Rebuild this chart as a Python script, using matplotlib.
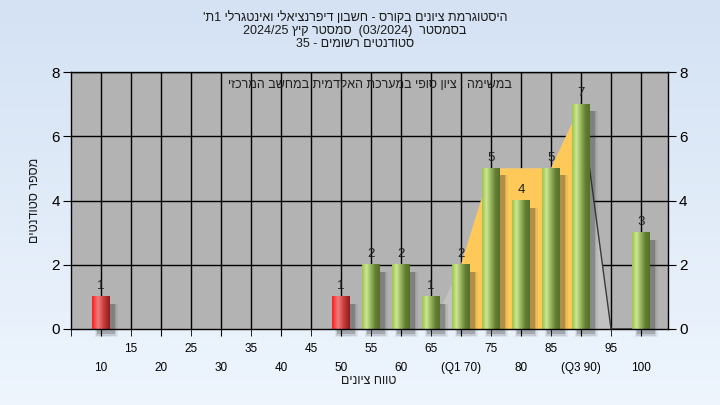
import re
import numpy as np
import matplotlib
matplotlib.use("Agg")
import matplotlib.pyplot as plt
from matplotlib.colors import LinearSegmentedColormap
from matplotlib.patches import Rectangle, Polygon

plt.rcParams['font.family'] = ['Liberation Sans', 'DejaVu Sans']


# matplotlib has no bidi, so flip hebrew strings for display
def rtl(s):
    r = s[::-1]
    r = re.sub(r'[0-9A-Za-z/.]+', lambda m: m.group(0)[::-1], r)
    return r.translate(str.maketrans('()', ')('))


# data
grades = [10, 15, 20, 25, 30, 35, 40, 45, 50, 55, 60, 65, 70, 75, 80, 85, 90, 95, 100]
tick_text = ["10", "15", "20", "25", "30", "35", "40", "45", "50", "55", "60", "65",
             "(Q1 70)", "75", "80", "85", "(Q3 90)", "95", "100"]
counts = [1, 0, 0, 0, 0, 0, 0, 0, 1, 2, 2, 1, 2, 5, 4, 5, 7, 0, 3]
failed = [10, 45, 50]

# frequency polygon (light) and quartile band (yellow)
poly_grades = [65, 70, 75, 80, 85, 90, 95, 100]
poly_vals = [0, 2, 5, 5, 5, 7, 0, 0]
q1, q3 = 70, 90

title_lines = ["היסטוגרמת ציונים בקורס - חשבון דיפרנציאלי ואינטגרלי 1ת'",
               "בסמסטר  (03/2024)  סמסטר קיץ 2024/25",
               "סטודנטים רשומים - 35"]
note = "במשימה : ציון סופי במערכת האקדמית במחשב המרכזי"
xlab = "טווח ציונים"
ylab = "מספר סטודנטים"


fig = plt.figure(figsize=(7.2, 4.05), dpi=100)

# light blue gradient background
bg = fig.add_axes([0, 0, 1, 1], zorder=-10)
bg_cmap = LinearSegmentedColormap.from_list("bg", ["#d4e2f4", "#eef5fd"])
bg.imshow(np.linspace(0, 1, 100).reshape(-1, 1), aspect='auto', cmap=bg_cmap,
          extent=(0, 1, 0, 1))
bg.axis('off')

ax = fig.add_axes([71/720, 1-329/405, 597/720, 257/405])
ax.set_facecolor("#b3b3b3")

idx = {g: i for i, g in enumerate(grades)}
px = [idx[g] for g in poly_grades]

# grid
for i in range(len(grades)):
    ax.axvline(i, color='black', lw=1, zorder=0.5)
for v in [2, 4, 6, 8]:
    ax.axhline(v, color='black', lw=1, zorder=0.5)

# frequency polygon
pts = list(zip(px, poly_vals)) + [(px[-1], 0), (px[0], 0)]
ax.add_patch(Polygon(pts, closed=True, facecolor="#c2c2c2", edgecolor='none', zorder=1))
band = [(x, y) for x, y in zip(px, poly_vals) if idx[q1] <= x <= idx[q3]]
band = [(idx[q1], 0)] + band + [(idx[q3], 0)]
ax.add_patch(Polygon(band, closed=True, facecolor="#ffc95a", edgecolor='none', zorder=1.1))
k = poly_grades.index(q3)
ax.plot(px[k:], poly_vals[k:], color="#3a3a3a", lw=1, zorder=1.2, clip_on=False)

green = LinearSegmentedColormap.from_list("g", ["#9cc646", "#cde698", "#94b45a", "#647f34", "#566f2a"])
red = LinearSegmentedColormap.from_list("r", ["#ff1c1c", "#f07c7c", "#c83c3c", "#8e1c1c"])

w = 0.6
grad = np.linspace(0, 1, 64).reshape(1, -1)
for g, c in zip(grades, counts):
    if c == 0:
        continue
    i = idx[g]
    # soft shadow
    for s, a in [(0.0, 0.22), (0.08, 0.12), (0.16, 0.07)]:
        ax.add_patch(Rectangle((i - w/2 + 0.17 - s/2, -0.17 - s/2), w + s, c + s/2 - 0.05,
                               facecolor="#2a2a2a", edgecolor='none', alpha=a,
                               zorder=1.5, clip_on=False))
    cm = red if g in failed else green
    ax.imshow(grad, extent=(i - w/2, i + w/2, 0, c), aspect='auto', cmap=cm, zorder=2)
    ax.text(i, c + 0.15, str(c), ha='center', va='bottom', fontsize=9.5, color="#202020", zorder=3)

ax.set_xlim(-1, 18.9)
ax.set_ylim(0, 8)

# x ticks: two rows
ax.set_xticks(list(range(0, 19, 2)))
ax.set_xticklabels(tick_text[0::2], fontsize=8.5)
ax.set_xticks([-1] + list(range(1, 19, 2)), minor=True)
ax.set_xticklabels([""] + tick_text[1::2], minor=True, fontsize=8.5)
ax.tick_params(axis='x', which='major', length=5, pad=19, color='black')
ax.tick_params(axis='x', which='minor', length=5, pad=5, color='black')

ax.set_yticks([0, 2, 4, 6, 8])
ax.tick_params(axis='y', which='major', length=6, labelsize=11, pad=2,
               left=True, right=True, labelleft=True, labelright=True)

for sp in ax.spines.values():
    sp.set_color('black')
    sp.set_linewidth(1)

ax.text(0.5, 0.95, rtl(note), transform=ax.transAxes, ha='center', va='center',
        fontsize=9, color="#202020", zorder=4)

for j, line in enumerate(title_lines):
    fig.text(355/720, 1 - (18 + 13*j)/405, rtl(line), ha='center', va='center',
             fontsize=9, color="#1a1a1a")

fig.text(369/720, 1 - 381/405, rtl(xlab), ha='center', va='center', fontsize=9, color="#1a1a1a")
fig.text(35/720, 1 - 200/405, rtl(ylab), ha='center', va='center', rotation=90,
         fontsize=9, color="#1a1a1a")

fig.savefig("out.png", dpi=100)
